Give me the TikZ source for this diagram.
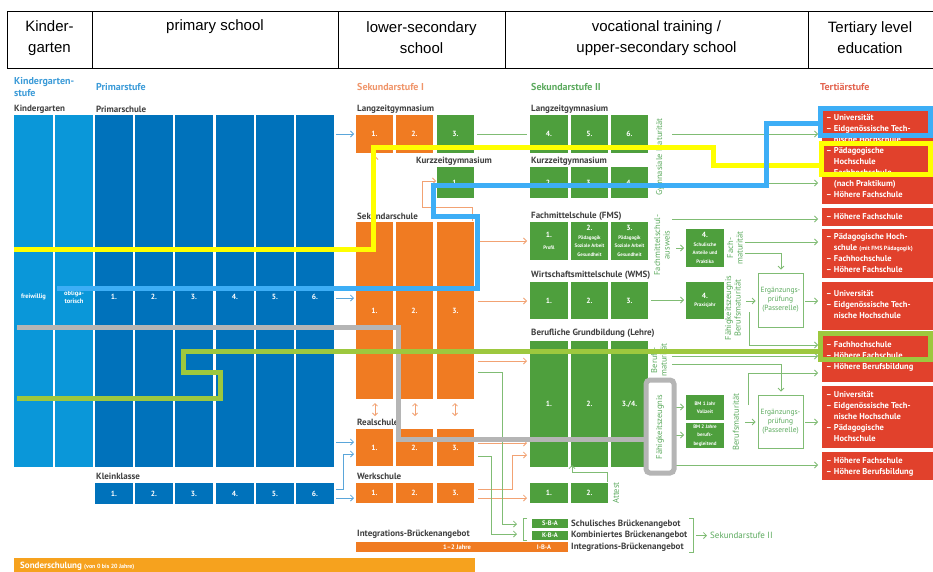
\documentclass[tikz,border=0pt]{standalone}
\usepackage{fontspec}
\setmainfont{Liberation Sans}
\newfontfamily\dfont{PT Sans}
\usetikzlibrary{arrows.meta}
\definecolor{kgblue}{HTML}{0A97D9}
\definecolor{pblue}{HTML}{0072BB}
\definecolor{sorange}{HTML}{F07B22}
\definecolor{sgreen}{HTML}{4E9F3D}
\definecolor{tred}{HTML}{E1412C}
\definecolor{sonder}{HTML}{F6A21E}
\definecolor{labblue}{HTML}{3B9BD8}
\definecolor{laborange}{HTML}{F0956A}
\definecolor{labgreen}{HTML}{5CAA5E}
\definecolor{labred}{HTML}{E3634E}
\definecolor{labgray}{HTML}{3F3F3F}
\definecolor{lblue}{HTML}{5AA6DA}
\definecolor{lorange}{HTML}{F2A273}
\definecolor{lgreen}{HTML}{80BC74}
\definecolor{hlyellow}{HTML}{FFFF00}
\definecolor{hlblue}{HTML}{3DAEF6}
\definecolor{hlgray}{HTML}{B5B5B5}
\definecolor{hlgreen}{HTML}{9DC83E}
\newcommand\nf{\dfont\bfseries\fontsize{7.5}{8.5}\selectfont}
\newcommand\tf{\dfont\bfseries\fontsize{5}{6}\selectfont}
\newcommand\mkbox[7]{\node[boxst, fill=#1, minimum width={(#5-#3)*1pt}, minimum height={(#6-#4)*1pt}] (#2) at ({(#3+#5)/2},{(#4+#6)/2}) {#7};}
\tikzset{
 boxst/.style={inner sep=0pt, outer sep=0pt, text=white, align=center, font=\nf},
 lab/.style={anchor=west, inner sep=0pt, font=\dfont\bfseries\fontsize{9}{10}\selectfont, text=labgray},
 seclab/.style={anchor=west, inner sep=0pt, font=\dfont\bfseries\fontsize{10}{11.5}\selectfont, align=left},
 head/.style={font=\fontsize{15}{21}\selectfont, align=center, inner sep=0pt},
 conn/.style={line width=0.8pt, -{Straight Barb[length=3pt,width=6pt]}},
 ba/.style={conn, draw=lblue},
 oa/.style={conn, draw=lorange},
 ga/.style={conn, draw=lgreen},
 gl/.style={line width=0.8pt, draw=lgreen},
 vt/.style={rotate=90, text=labgreen, font=\dfont\fontsize{8.5}{9.5}\selectfont, align=center, inner sep=0pt},
 tt/.style={anchor=north west, inner sep=0pt, text=white, align=left, font=\dfont\bfseries\fontsize{8.5}{11}\selectfont},
 ergst/.style={draw=lgreen, line width=0.8pt, text=labgreen, align=center, inner sep=0pt, font=\dfont\fontsize{7.5}{9}\selectfont},
 hl/.style={line width=5pt},
 brt/.style={anchor=west, inner sep=0pt, text=labgray, font=\dfont\bfseries\fontsize{9}{10}\selectfont},
}
\begin{document}
\begin{tikzpicture}[x=1pt,y=-1pt]
\useasboundingbox[fill=white] (0,0) rectangle (933,571);
% ---------- header ----------
\draw[line width=1pt] (7,11) -- (933,11) (7,68) -- (933,68);
\foreach \x in {7,92,338,505,808} \draw[line width=1pt] (\x,11) -- (\x,68);
\node[head] (h1) at (49.5,38) {Kinder-\\garten};
\node[head] (h2) at (215,27) {primary school};
\node[head] (h3) at (421.5,38) {lower-secondary\\school};
\node[head] (h4) at (656.5,38) {vocational training /\\upper-secondary school};
\node[head] (h5) at (870,38) {Tertiary level\\education};
% ---------- section labels ----------
\node[seclab, text=labblue] (l1) at (14,87) {Kindergarten-\\stufe};
\node[seclab, text=labblue] (l2) at (96,87) {Primarstufe};
\node[seclab, text=laborange] (l3) at (357,87) {Sekundarstufe I};
\node[seclab, text=labgreen] (l4) at (531,87) {Sekundarstufe II};
\node[seclab, text=labred] (l5) at (820,87) {Tertiärstufe};
\node[lab] (l6) at (14,109) {Kindergarten};
\node[lab] (l7) at (96,109) {Primarschule};
\node[lab] (l8) at (357,109) {Langzeitgymnasium};
\node[lab] (l9) at (416,161) {Kurzzeitgymnasium};
\node[lab] (l10) at (357,216) {Sekundarschule};
\node[lab] (l11) at (357,422) {Realschule};
\node[lab] (l12) at (357,476) {Werkschule};
\node[lab] (l13) at (96,476) {Kleinklasse};
\node[lab] (l14) at (357,534) {Integrations-Brückenangebot};
\node[lab] (l15) at (531,109) {Langzeitgymnasium};
\node[lab] (l16) at (531,161) {Kurzzeitgymnasium};
\node[lab] (l17) at (531,216) {Fachmittelschule (FMS)};
\node[lab] (l18) at (531,275) {Wirtschaftsmittelschule (WMS)};
\node[lab] (l19) at (531,333) {Berufliche Grundbildung (Lehre)};
% ---------- kindergarten / primary ----------
\mkbox{kgblue}{kg1}{14}{115}{53}{467}{}
\mkbox{kgblue}{kg2}{55}{115}{93}{467}{}
\node[boxst, font=\dfont\bfseries\fontsize{6.5}{7.5}\selectfont] (fw) at (33.5,297) {freiwillig};
\node[boxst, font=\dfont\bfseries\fontsize{6.5}{7.5}\selectfont] (ob) at (74,297) {obliga-\\torisch};
\foreach \i/\x in {1/95,2/135,3/175,4/216,5/256,6/296}{
  \mkbox{pblue}{p\i}{\x}{115}{\x+38}{467}{}
  \node[boxst] (pn\i) at (\x+19,297) {\i.};
  \mkbox{pblue}{k\i}{\x}{483}{\x+38}{504}{\i.}
}
% ---------- Sekundarstufe I ----------
\mkbox{sorange}{lg1}{356}{115}{393}{153}{1.}
\mkbox{sorange}{lg2}{396}{115}{433}{153}{2.}
\mkbox{sgreen}{lg3}{437}{115}{474}{153}{3.}
\mkbox{sgreen}{kz1}{437}{167}{474}{198}{1.}
\mkbox{sorange}{sk1}{356}{222}{393}{399}{1.}
\mkbox{sorange}{sk2}{396}{222}{433}{399}{2.}
\mkbox{sorange}{sk3}{437}{222}{474}{399}{3.}
\mkbox{sorange}{rs1}{356}{429}{393}{466}{1.}
\mkbox{sorange}{rs2}{396}{429}{433}{466}{2.}
\mkbox{sorange}{rs3}{437}{429}{474}{466}{3.}
\mkbox{sorange}{ws1}{356}{483}{393}{503}{1.}
\mkbox{sorange}{ws2}{396}{483}{433}{503}{2.}
\mkbox{sorange}{ws3}{437}{483}{474}{503}{3.}
\mkbox{sorange}{iba}{356}{542}{568}{552}{}
\node[boxst, font=\dfont\bfseries\fontsize{6.5}{7.5}\selectfont] (jahre) at (457,547) {1–2 Jahre};
\node[boxst, font=\dfont\bfseries\fontsize{6.5}{7.5}\selectfont] (ibat) at (544,547) {I-B-A};
\mkbox{sonder}{sonder}{14}{558}{475}{578}{}
\node[anchor=west, inner sep=0pt, text=white, font=\dfont\bfseries\fontsize{9}{10}\selectfont] (st) at (20,566) {Sonderschulung {\fontsize{6}{7}\selectfont (von 0 bis 20 Jahre)}};
% ---------- Sekundarstufe II ----------
\mkbox{sgreen}{lg4}{530}{115}{568}{153}{4.}
\mkbox{sgreen}{lg5}{571}{115}{608}{153}{5.}
\mkbox{sgreen}{lg6}{611}{115}{648}{153}{6.}
\mkbox{sgreen}{kz2}{530}{167}{568}{198}{2.}
\mkbox{sgreen}{kz3}{571}{167}{608}{198}{3.}
\mkbox{sgreen}{kz4}{611}{167}{648}{198}{4.}
\mkbox{sgreen}{fms1}{530}{222}{568}{260}{1.\\[3pt]\tf Profil}
\mkbox{sgreen}{fms2}{571}{222}{608}{260}{2.\\\tf Pädagogik\\\tf Soziale Arbeit\\\tf Gesundheit}
\mkbox{sgreen}{fms3}{611}{222}{648}{260}{3.\\\tf Pädagogik\\\tf Soziale Arbeit\\\tf Gesundheit}
\mkbox{sgreen}{wms1}{530}{282}{568}{319}{1.}
\mkbox{sgreen}{wms2}{571}{282}{608}{319}{2.}
\mkbox{sgreen}{wms3}{611}{282}{648}{319}{3.}
\mkbox{sgreen}{le1}{530}{341}{568}{467}{1.}
\mkbox{sgreen}{le2}{571}{341}{608}{467}{2.}
\mkbox{sgreen}{le3}{611}{341}{648}{467}{3./4.}
\mkbox{sgreen}{at1}{530}{483}{568}{503}{1.}
\mkbox{sgreen}{at2}{571}{483}{608}{503}{2.}
\mkbox{sgreen}{fms4}{686}{229}{724}{267}{4.\\\tf Schulische\\\tf Anteile und\\\tf Praktika}
\mkbox{sgreen}{wms4}{686}{282}{724}{319}{4.\\\tf Praxisjahr}
\mkbox{sgreen}{bm1}{686}{395}{724}{420}{\tf BM 1 Jahr\\\tf Vollzeit}
\mkbox{sgreen}{bm2}{686}{423}{724}{448}{\tf BM 2 Jahre\\\tf berufs-\\\tf begleitend}
\node[ergst, minimum width=45pt, minimum height=54pt] (erg1) at (780.5,300) {Ergänzungs-\\prüfung\\(Passerelle)};
\node[ergst, minimum width=45pt, minimum height=53pt] (erg2) at (780.5,421.5) {Ergänzungs-\\prüfung\\(Passerelle)};
\mkbox{sgreen}{sba}{532}{519}{568}{528}{}
\mkbox{sgreen}{kba}{532}{531}{568}{540}{}
\node[boxst, font=\dfont\bfseries\fontsize{6.5}{7.5}\selectfont] (sbat) at (sba) {S-B-A};
\node[boxst, font=\dfont\bfseries\fontsize{6.5}{7.5}\selectfont] (kbat) at (kba) {K-B-A};
\node[brt] (b1) at (571,524) {Schulisches Brückenangebot};
\node[brt] (b2) at (571,535.5) {Kombiniertes Brückenangebot};
\node[brt] (b3) at (571,547) {Integrations-Brückenangebot};
\node[anchor=west, inner sep=0pt, text=labgreen, font=\dfont\fontsize{9}{10}\selectfont] (s2) at (710,535.5) {Sekundarstufe II};
% vertical texts
\node[vt] (gm) at (660,157) {Gymnasiale Maturität};
\node[vt] (fa) at (662,245) {Fachmittelschul-\\ausweis};
\node[vt] (fm) at (735,248) {Fach-\\maturität};
\node[vt] (fb) at (733,308) {Fähigkeitszeugnis\\Berufsmaturität};
\node[vt] (bmt) at (659,360) {Berufs-\\maturität};
\node[vt] (fz) at (660,427) {Fähigkeitszeugnis};
\node[vt] (bmv) at (736,422) {Berufsmaturität};
\node[vt] (att) at (616,493) {Attest};
% ---------- Tertiary ----------
\mkbox{tred}{t1}{822}{106}{933}{204}{}
\mkbox{tred}{t2}{822}{208}{933}{226}{}
\mkbox{tred}{t3}{822}{229}{933}{278}{}
\mkbox{tred}{t4}{822}{282}{933}{330}{}
\mkbox{tred}{t5}{822}{335}{933}{382}{}
\mkbox{tred}{t6}{822}{386}{933}{448}{}
\mkbox{tred}{t7}{822}{452}{933}{480}{}
\node[tt] (tx1) at (826,114) {– Universität\\– Eidgenössische Tech-\\\hphantom{– }nische Hochschule\\– Pädagogische\\\hphantom{– }Hochschule\\– Fachhochschule\\\hphantom{– }(nach Praktikum)\\– Höhere Fachschule};
\node[tt] (tx2) at (826,213) {– Höhere Fachschule};
\node[tt] (tx3) at (826,233) {– Pädagogische Hoch-\\\hphantom{– }schule {\fontsize{6}{7}\selectfont(mit FMS Pädagogik)}\\– Fachhochschule\\– Höhere Fachschule};
\node[tt] (tx4) at (826,290) {– Universität\\– Eidgenössische Tech-\\\hphantom{– }nische Hochschule};
\node[tt] (tx5) at (826,341) {– Fachhochschule\\– Höhere Fachschule\\– Höhere Berufsbildung};
\node[tt] (tx6) at (826,391) {– Universität\\– Eidgenössische Tech-\\\hphantom{– }nische Hochschule\\– Pädagogische\\\hphantom{– }Hochschule};
\node[tt] (tx7) at (826,457) {– Höhere Fachschule\\– Höhere Berufsbildung};
% ---------- connectors: blue ----------
\draw[ba] ([xshift=2pt]p6.east |- lg1.west) -- ([xshift=-2pt]lg1.west);
\draw[ba] ([xshift=2pt]p6.east |- 0,298) -- ([xshift=-2pt]sk1.west |- 0,298);
\draw[ba] ([xshift=2pt]p6.east |- 0,442) -- ([xshift=-2pt]rs1.west |- 0,442);
\draw[ba] ([xshift=2pt]k6.east |- 0,489) -- (343,489) -- (343,454) -- ([xshift=-2pt]rs1.west |- 0,454);
\draw[ba] ([xshift=2pt]k6.east |- 0,498) -- ([xshift=-2pt]ws1.west |- 0,498);
% ---------- connectors: orange ----------
\draw[oa] ([xshift=4pt]sk3.east |- 0,241) -- ([xshift=-3pt]fms1.west |- 0,241);
\draw[oa] ([xshift=4pt]sk3.east |- 0,301) -- ([xshift=-3pt]wms1.west |- 0,301);
\draw[oa] ([xshift=4pt]sk3.east |- 0,361) -- ([xshift=-3pt]le1.west |- 0,361);
\draw[oa] ([xshift=4pt]rs3.east |- 0,443) -- ([xshift=-3pt]le1.west |- 0,443);
\draw[oa] ([xshift=4pt]ws3.east |- 0,489) -- (512,489) -- (512,455) -- ([xshift=-3pt]le1.west |- 0,455);
\draw[oa] ([xshift=4pt]ws3.east |- 0,498) -- ([xshift=-3pt]at1.west |- 0,498);
\draw[oa] (375,221) -- (375,156);
\draw[oa] (472,221) -- (472,207) -- (422,207) -- (422,181) -- ([xshift=-1pt]kz1.west |- 0,181);
\foreach \x in {375,415,455} \draw[line width=0.8pt, draw=lorange, {Straight Barb[length=2.5pt,width=5pt]}-{Straight Barb[length=2.5pt,width=5pt]}] (\x,403) -- (\x,416);
% ---------- connectors: green ----------
\draw[gl] ([xshift=3pt]lg3.east) -- ([xshift=-3pt]lg4.west);
\draw[ga] (672,134) -- ([xshift=-4pt]t1.west |- 0,134);
\draw[ga] (672,183) -- ([xshift=-4pt]t1.west |- 0,183);
\draw[ga] (672,219) -- ([xshift=-4pt]t2.west |- 0,219);
\draw[ga] (676,248) -- ([xshift=-2pt]fms4.west |- 0,248);
\draw[ga] (745,242) -- ([xshift=-4pt]t3.west |- 0,242);
\draw[ga] (745,253) -- (781,253) -- ([yshift=3pt]erg1.north -| 781,0);
\draw[ga] ([xshift=3pt]wms3.east |- 0,300) -- ([xshift=-2pt]wms4.west |- 0,300);
\draw[ga] (746,301) -- ([xshift=-2pt]erg1.west |- 0,301);
\draw[ga] ([xshift=2pt]erg1.east |- 0,301) -- ([xshift=-4pt]t4.west |- 0,301);
\draw[ga] (749,312) -- (749,345) -- ([xshift=-4pt]t5.west |- 0,345);
\draw[ga] (672,356) -- ([xshift=-4pt]t5.west |- 0,356);
\draw[ga] (672,364) -- (781,364) -- ([yshift=3pt]erg2.north -| 781,0);
\draw[ga] (748,405) -- (748,373) -- ([xshift=-4pt]t5.west |- 0,373);
\draw[ga] (676,407) -- ([xshift=-2pt]bm1.west |- 0,407);
\draw[ga] (676,435) -- ([xshift=-2pt]bm2.west |- 0,435);
\draw[ga] (745,422) -- ([xshift=-2pt]erg2.west |- 0,422);
\draw[ga] ([xshift=2pt]erg2.east |- 0,422) -- ([xshift=-4pt]t6.west |- 0,422);
\draw[ga] (674,465) -- ([xshift=-4pt]t7.west |- 0,465);
\draw[ga] (607,482) -- (607,472) -- (572,472) -- ([yshift=2pt]le1.south -| 572,0);
\draw[ga] ([xshift=4pt]sk3.east |- 0,372) -- (502,372) -- (502,524) -- (517,524);
\draw[ga] ([xshift=4pt]rs3.east |- 0,456) -- (491,456) -- (491,534) -- (517,534);
\draw[gl] (527,518) -- (523,518) -- (523,540) -- (527,540);
\draw[gl] (689,518) -- (693,518) -- (693,552) -- (689,552);
\draw[ga] (696,535.5) -- ([xshift=-3pt]s2.west);
% ---------- highlight paths ----------
\draw[hl, hlyellow] (14,249) -- (373,249) -- (373,147) -- (713,147) -- (713,165) -- (821,165);
\draw[hl, hlyellow] (821,143) rectangle (930,174);
\draw[hl, hlblue] (57,288) -- (477,288) -- (477,216) -- (433,216) -- (433,185) -- (766,185) -- (766,123) -- (820,123);
\draw[hl, hlblue] (820,108) rectangle (930,135);
\draw[hl, hlgray] (17,327) -- (398,327) -- (398,439) -- (646,439);
\draw[hl, hlgray, rounded corners=4pt] (646,380) rectangle (674,473);
\draw[hl, hlgreen] (17,398) -- (220,398) -- (220,372) -- (183,372) -- (183,351) -- (820,351);
\draw[hl, hlgreen] (820,333) rectangle (930,359);
\end{tikzpicture}
\end{document}
